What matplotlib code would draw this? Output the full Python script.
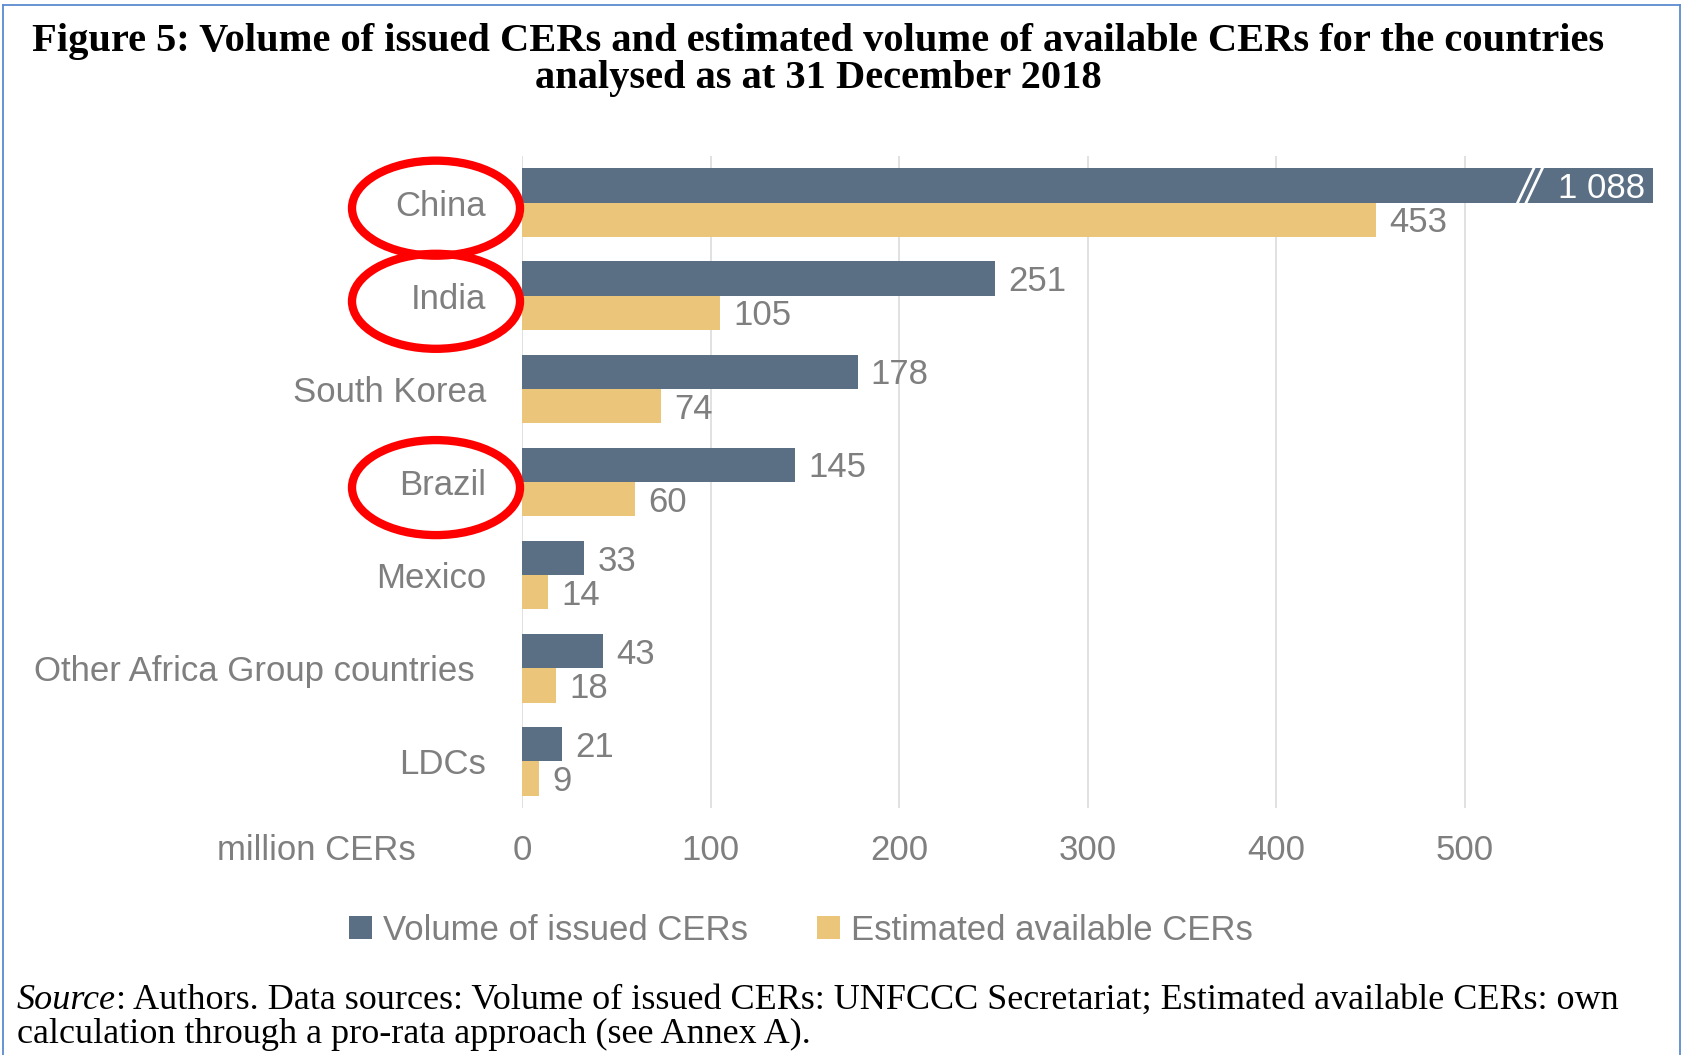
"""Figure 5: issued vs estimated available CERs by country (horizontal bars)."""

import matplotlib
matplotlib.use("Agg")
import matplotlib.pyplot as plt
from matplotlib.patches import Patch, Ellipse
from matplotlib.lines import Line2D
from matplotlib.transforms import blended_transform_factory, ScaledTranslation

plt.rcParams.update({"font.family": ["Liberation Sans", "DejaVu Sans"]})

# ---- data -------------------------------------------------------------------
countries = ["China", "India", "South Korea", "Brazil", "Mexico",
             "Other Africa Group countries", "LDCs"]
issued = [1088, 251, 178, 145, 33, 43, 21]
available = [453, 105, 74, 60, 14, 18, 9]
highlighted = ["China", "India", "Brazil"]
xticks = [0, 100, 200, 300, 400, 500]

ISS = "#5a6f83"
AVA = "#eac57a"
GREY = "#7f7f7f"
GRID = "#d9d9d9"
BORDER = "#5b8bd0"
FS = 25

W, H = 1685, 1055
fig = plt.figure(figsize=(W / 100, H / 100), dpi=100)
ax = fig.add_axes([522 / W, 1 - 808 / H, (1653 - 522) / W, 652 / H])

XMAX = 600
bh = 0.368
off = bh / 2
ypos = list(range(len(countries)))

ax.barh([y - off for y in ypos], issued, height=bh, color=ISS, zorder=2)
ax.barh([y + off for y in ypos], available, height=bh, color=AVA, zorder=2)

ax.set_xlim(0, XMAX)
ax.set_ylim(len(countries) - 0.5, -0.5)
ax.set_xticks(xticks)
ax.set_yticks(ypos)
ax.set_yticklabels(countries)
ax.tick_params(axis="both", length=0, labelsize=FS, labelcolor=GREY)
ax.tick_params(axis="y", pad=26)
ax.tick_params(axis="x", pad=18.5)
ax.grid(axis="x", color=GRID, lw=1.1, zorder=0)
ax.set_axisbelow(True)
for s in ax.spines.values():
    s.set_visible(False)
for lab in ax.get_yticklabels():
    if lab.get_text().startswith("Other"):
        lab.set_transform(lab.get_transform()
                          + ScaledTranslation(-8 / 72, 0, fig.dpi_scale_trans))

# value labels
for y, v in zip(ypos, issued):
    if v > XMAX:
        ax.annotate(f"{v // 1000} {v % 1000:03d}", xy=(XMAX, y - off),
                    xytext=(-6, -2), textcoords="offset points", ha="right",
                    va="center", color="white", fontsize=FS, zorder=4)
        # break marks
        for x0 in (527.5, 532):
            ax.plot([x0, x0 + 10], [y - off + bh / 2 + 0.03, y - off - bh / 2 - 0.03],
                    color="white", lw=2.0, zorder=3, solid_capstyle="butt")
    else:
        ax.annotate(f"{v}", xy=(v, y - off), xytext=(9.5, -2.2),
                    textcoords="offset points", ha="left", va="center",
                    color=GREY, fontsize=FS)
for y, v in zip(ypos, available):
    ax.annotate(f"{v}", xy=(v, y + off), xytext=(9.5, -2.2),
                textcoords="offset points", ha="left", va="center",
                color=GREY, fontsize=FS)

fig.text(416 / W, 1 - 851 / H, "million CERs", ha="right", va="center",
         fontsize=FS, color=GREY)

# red circles round the highlighted countries
tr = blended_transform_factory(fig.transFigure, ax.transData)
for name in highlighted:
    y = countries.index(name)
    ax.add_artist(Ellipse((436 / W, y + 0.06), 168 / W, 1.02, transform=tr,
                          fill=False, ec="#ff0000", lw=6, clip_on=False, zorder=5))

# legend
fig.legend(handles=[Patch(fc=ISS), Patch(fc=AVA)],
           labels=["Volume of issued CERs", "Estimated available CERs"],
           loc="center", bbox_to_anchor=(801 / W, 1 - 930 / H), ncol=2,
           frameon=False, fontsize=FS, labelcolor=GREY, handlelength=0.65,
           handleheight=0.65, handletextpad=0.32, columnspacing=2.0)

# title
TFS = 29.2
fig.text(818 / W, 1 - 51 / H,
         "Figure 5: Volume of issued CERs and estimated volume of available CERs for the countries",
         ha="center", va="baseline", fontsize=TFS, fontweight="bold",
         family="Liberation Serif", color="black")
fig.text(818 / W, 1 - 88 / H, "analysed as at 31 December 2018",
         ha="center", va="baseline", fontsize=TFS, fontweight="bold",
         family="Liberation Serif", color="black")

# source note
SFS = 26
src = fig.text(17 / W, 1 - 1009 / H, "Source", ha="left", va="baseline",
               fontsize=SFS, fontstyle="italic", family="Liberation Serif")
ax.annotate(": Authors. Data sources: Volume of issued CERs: UNFCCC Secretariat; "
            "Estimated available CERs: own", xy=(1, 0), xycoords=src,
            ha="left", va="bottom", fontsize=SFS, family="Liberation Serif",
            annotation_clip=False)
fig.text(17 / W, 1 - 1043 / H, "calculation through a pro-rata approach (see Annex A).",
         ha="left", va="baseline", fontsize=SFS, family="Liberation Serif")

# thin blue frame (left, top, right)
for xs, ys in [([2.5, 2.5], [5, H]), ([2.5, 1680], [5, 5]), ([1680, 1680], [5, H])]:
    fig.add_artist(Line2D([x / W for x in xs], [1 - y / H for y in ys],
                          transform=fig.transFigure, color=BORDER, lw=1.3))

fig.savefig("out.png", dpi=100, facecolor="white")
